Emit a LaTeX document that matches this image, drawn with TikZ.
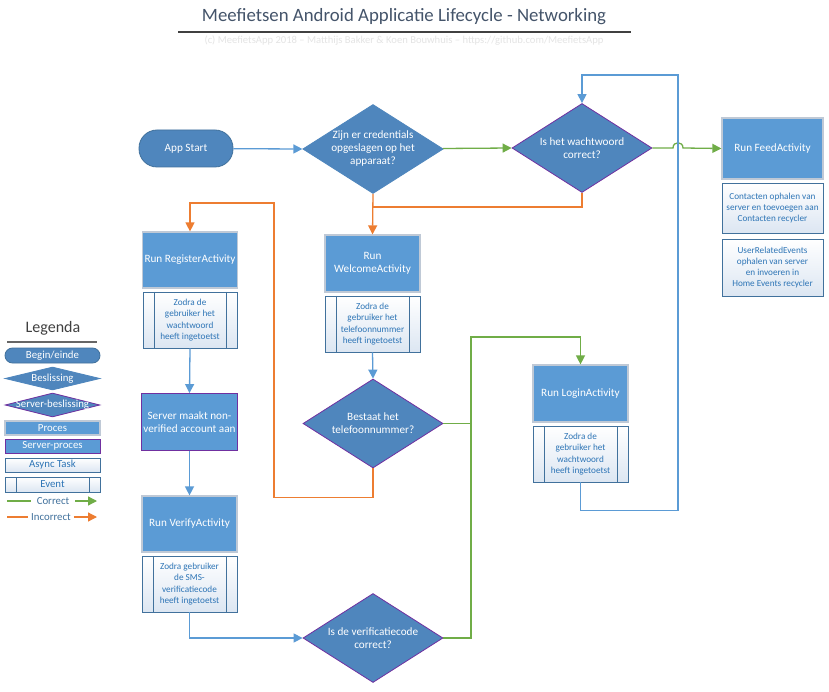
\documentclass[tikz,border=0pt]{standalone}
\usepackage{fontspec}
\setmainfont{Carlito}
\usetikzlibrary{shapes.geometric,arrows.meta,calc}
\definecolor{procfill}{HTML}{5B9BD5}
\definecolor{decfill}{HTML}{4F86BD}
\definecolor{purp}{HTML}{7030A0}
\definecolor{cgreen}{HTML}{70AD47}
\definecolor{corange}{HTML}{ED7D31}
\definecolor{cblue}{HTML}{5B9BD5}
\definecolor{asyncborder}{HTML}{41719C}
\definecolor{asynctext}{HTML}{2E75B6}
\definecolor{asyncbg}{HTML}{DCE6F2}
\definecolor{titlecol}{HTML}{44546A}
\definecolor{subcol}{HTML}{E4E4E4}
\definecolor{procborder}{HTML}{BFC9D6}
\tikzset{
  proc/.style={draw=procborder, line width=1.2pt, fill=procfill, text=white, minimum width=95pt, minimum height=57pt, inner sep=2pt, align=center, font=\fontsize{11.2}{13.5}\selectfont},
  sproc/.style={proc, draw=purp, line width=0.9pt},
  async/.style={draw=asyncborder, line width=0.9pt, top color=white, bottom color=asyncbg, text=asynctext, align=center, minimum width=95pt, minimum height=56pt, inner sep=1pt, font=\fontsize{9.2}{11.3}\selectfont},
  event/.style={async, path picture={
    \draw[asyncborder, line width=0.9pt] ([xshift=11pt]path picture bounding box.north west) -- ([xshift=11pt]path picture bounding box.south west);
    \draw[asyncborder, line width=0.9pt] ([xshift=-11pt]path picture bounding box.north east) -- ([xshift=-11pt]path picture bounding box.south east);}},
  dec/.style={diamond, aspect=1.6, fill=decfill, draw=decfill, line width=0.8pt, text=white, minimum width=140pt, minimum height=89pt, inner sep=0pt, align=center, font=\fontsize{11.2}{13}\selectfont},
  sdec/.style={dec, draw=purp},
  term/.style={rectangle, rounded corners=18pt, fill=decfill, draw=asyncborder, line width=0.8pt, text=white, minimum width=94pt, minimum height=37pt, font=\fontsize{11.2}{13}\selectfont},
  tip/.style={-{Triangle[length=9pt,width=9pt]}},
  bl/.style={draw=cblue, line width=1.3pt},
  gl/.style={draw=cgreen, line width=1.3pt},
  ol/.style={draw=corange, line width=1.3pt},
  lgtxt/.style={font=\fontsize{10.8}{12}\selectfont}
}
\begin{document}
\begin{tikzpicture}[x=1pt,y=-1pt]
\useasboundingbox[fill=white] (0,0) rectangle (829,692);
% title
\node[text=titlecol, font=\fontsize{18.8}{21}\selectfont] (title) at (404,17) {Meefietsen Android Applicatie Lifecycle - Networking};
\coordinate (tl1) at (178,32);
\coordinate (tl2) at (631,32);
\draw[draw=black!75, line width=1.4pt] (tl1) -- (tl2);
\node[text=subcol, font=\fontsize{10.6}{12}\selectfont] (sub) at (404,41) {(c) MeefietsApp 2018 -- Matthijs Bakker \& Koen Bouwhuis -- https://github.com/MeefietsApp};

% main nodes
\node[term] (start) at (186,148.5) {App Start};
\node[dec] (d1) at (373,149) {Zijn er credentials\\opgeslagen op het\\apparaat?};
\node[sdec] (d2) at (582,148) {Is het wachtwoord\\correct?};
\node[proc, minimum width=101pt, minimum height=61pt] (feed) at (772.5,148.5) {Run FeedActivity};
\node[async, minimum width=101pt, minimum height=50pt] (feedA1) at (772.5,208) {Contacten ophalen van\\server en toevoegen aan\\Contacten recycler};
\node[async, minimum width=101pt, minimum height=57pt] (feedA2) at (772.5,267.5) {UserRelatedEvents\\ophalen van server\\en invoeren in\\Home Events recycler};

\node[proc, minimum width=94pt, minimum height=56pt] (reg) at (190,260) {Run RegisterActivity};
\node[event, minimum width=94pt] (regEv) at (190,320) {Zodra de\\gebruiker het\\wachtwoord\\heeft ingetoetst};
\node[sproc] (server) at (189.5,422) {Server maakt non-\\verified account aan};
\node[proc, minimum height=56pt] (verify) at (189.5,524) {Run VerifyActivity};
\node[event] (verifyEv) at (189.5,584) {Zodra gebruiker\\de SMS-\\verificatiecode\\heeft ingetoetst};

\node[proc] (wel) at (372.5,263.5) {Run\\WelcomeActivity};
\node[event] (welEv) at (372.5,324) {Zodra de\\gebruiker het\\telefoonnummer\\heeft ingetoetst};
\node[sdec] (bes) at (373,423.5) {Bestaat het\\telefoonnummer?};
\node[sdec] (vdec) at (373,638) {Is de verificatiecode\\correct?};

\node[proc] (login) at (580.5,393.5) {Run LoginActivity};
\node[event] (loginEv) at (580.5,454) {Zodra de\\gebruiker het\\wachtwoord\\heeft ingetoetst};

% helper coordinates
\coordinate (j1) at (373,207);
\coordinate (hop) at (678,148);
\coordinate (lp) at (678,75);
\coordinate (o1) at (274,203);
\coordinate (g2) at (471,337);

% connectors
\draw[bl, tip] (start) -- (d1.west);
\draw[gl, tip] (d1) -- (d2.west);
\draw[ol, tip] (d1.south) -- (wel.north);
\draw[ol] (d2.south) |- (j1);
\draw[gl, tip] (d2.east) -- ($(hop)+(-5,0)$) .. controls +(0,-7) and +(0,-7) .. ($(hop)+(5,0)$) -- (feed.west);
\draw[bl, tip] (loginEv.south) -- ++(0,28) -| (lp) -| (d2.north);
\draw[bl, tip] (regEv.south) -- (server.north);
\draw[bl, tip] (server.south) -- (verify.north);
\draw[bl, tip] (verifyEv.south) |- (vdec.west);
\draw[bl, tip] (welEv.south) -- (bes.north);
\draw[ol, tip] (bes.south) -- ++(0,29) -| (o1) -| (reg.north);
\draw[gl] (bes.east) -- (bes.east -| g2);
\draw[gl, tip] (vdec.east) -| (g2) -| (login.north);

% legend
\node[text=black!75, font=\fontsize{16}{18}\selectfont] (leg) at (53,328) {Legenda};
\coordinate (lu1) at (7,342);
\coordinate (lu2) at (97,342);
\draw[draw=black!60, line width=1.4pt] (lu1) -- (lu2);
\node[term, rounded corners=7.5pt, minimum width=95pt, minimum height=15pt, inner sep=0pt, lgtxt] (lgTerm) at (52.5,355.5) {Begin/einde};
\node[dec, minimum width=95pt, minimum height=23pt, label={[text=white, lgtxt]center:Beslissing}] (lgDec) at (52.5,378.5) {};
\node[sdec, minimum width=95pt, minimum height=24pt, label={[text=white, lgtxt]center:Server-beslissing}] (lgSDec) at (52.5,405) {};
\node[proc, minimum width=95pt, minimum height=14pt, inner sep=0pt, lgtxt] (lgProc) at (52.5,428) {Proces};
\node[sproc, minimum width=95pt, minimum height=14pt, inner sep=0pt, lgtxt] (lgSProc) at (52.5,446) {Server-proces};
\node[async, minimum width=95pt, minimum height=14pt, inner sep=0pt, lgtxt] (lgAsync) at (52.5,465) {Async Task};
\node[event, minimum width=95pt, minimum height=15pt, inner sep=0pt, lgtxt] (lgEvent) at (52.5,484.5) {Event};
\node[text=asyncborder, lgtxt, inner xsep=6pt] (lgC) at (53,501) {Correct};
\coordinate (c1) at (7,501);
\coordinate (c2) at (97,501);
\draw[gl] (c1) -- (lgC.west);
\draw[gl, tip] (lgC.east) -- (c2);
\node[text=asyncborder, lgtxt, inner xsep=3pt] (lgI) at (51,517) {Incorrect};
\coordinate (i1) at (7,517);
\coordinate (i2) at (97,517);
\draw[ol] (i1) -- (lgI.west);
\draw[ol, tip] (lgI.east) -- (i2);
\end{tikzpicture}
\end{document}
